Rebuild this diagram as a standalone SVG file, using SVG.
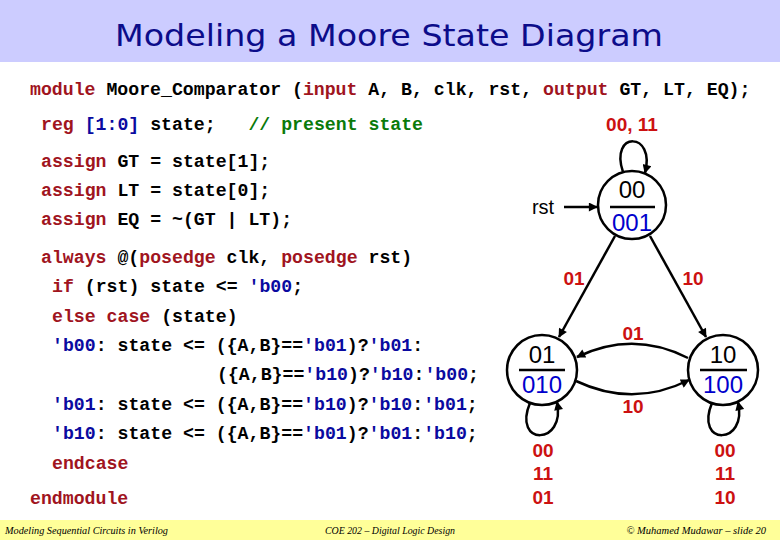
<svg xmlns="http://www.w3.org/2000/svg" width="780" height="540" viewBox="0 0 780 540">
<style>
.code{font-family:"Liberation Mono","DejaVu Sans Mono",monospace;font-weight:bold;font-size:18.2px;fill:#000;white-space:pre;}
.k{fill:#A0141E;}
.n{fill:#0A0AA0;}
.c{fill:#0A7A0A;}
.st{fill:#fff;stroke:#000;stroke-width:2.5;}
.bar{stroke:#000;stroke-width:2.5;}
.ns{font-family:"Liberation Sans",Arial,sans-serif;font-size:24px;text-anchor:middle;fill:#000;}
.no{fill:#0000CC;}
.lbl{font-family:"Liberation Sans",Arial,sans-serif;font-size:19px;font-weight:bold;fill:#CC1111;text-anchor:middle;}
.ed{fill:none;stroke:#000;stroke-width:2.5;marker-end:url(#ah);}
.ft{font-family:"Liberation Serif","Times New Roman",serif;font-style:italic;font-size:10.5px;fill:#000;}
</style>
<defs>
<marker id="ah" viewBox="0 0 10 10" refX="9" refY="5" markerWidth="11" markerHeight="9" markerUnits="userSpaceOnUse" orient="auto"><path d="M0,0 L10,5 L0,10 z" fill="#000"/></marker>
</defs>
<rect x="0" y="0" width="780" height="540" fill="#fff"/>
<rect x="0" y="0" width="780" height="62" fill="#CCCCFF"/>
<text x="389" y="46" text-anchor="middle" font-family="DejaVu Sans, sans-serif" font-size="31" fill="#0C0C8A" textLength="548" lengthAdjust="spacingAndGlyphs">Modeling a Moore State Diagram</text>
<rect x="0" y="520" width="780" height="20" fill="#FFFF99"/>
<text class="ft" x="5" y="534" textLength="163" lengthAdjust="spacingAndGlyphs">Modeling Sequential Circuits in Verilog</text>
<text class="ft" x="325" y="534" textLength="130" lengthAdjust="spacingAndGlyphs">COE 202 – Digital Logic Design</text>
<text class="ft" x="766" y="534" text-anchor="end">© Muhamed Mudawar – slide 20</text>
<g id="code">
<text class="code" x="30" y="95"><tspan class="k">module</tspan> Moore_Comparator (<tspan class="k">input</tspan> A, B, clk, rst, <tspan class="k">output</tspan> GT, LT, EQ);</text>
<text class="code" x="41" y="130"><tspan class="k">reg</tspan> <tspan class="n">[1:0]</tspan> state;   <tspan class="c">// present state</tspan></text>
<text class="code" x="41" y="167"><tspan class="k">assign</tspan> GT = state[1];</text>
<text class="code" x="41" y="196"><tspan class="k">assign</tspan> LT = state[0];</text>
<text class="code" x="41" y="225"><tspan class="k">assign</tspan> EQ = ~(GT | LT);</text>
<text class="code" x="41" y="263"><tspan class="k">always</tspan> @(<tspan class="k">posedge</tspan> clk, <tspan class="k">posedge</tspan> rst)</text>
<text class="code" x="52" y="292"><tspan class="k">if</tspan> (rst) state &lt;= <tspan class="n">'b00</tspan>;</text>
<text class="code" x="52" y="322"><tspan class="k">else case</tspan> (state)</text>
<text class="code" x="52" y="351"><tspan class="n">'b00</tspan>: state &lt;= ({A,B}==<tspan class="n">'b01</tspan>)?<tspan class="n">'b01</tspan>:</text>
<text class="code" x="217" y="380">({A,B}==<tspan class="n">'b10</tspan>)?<tspan class="n">'b10</tspan>:<tspan class="n">'b00</tspan>;</text>
<text class="code" x="52" y="410"><tspan class="n">'b01</tspan>: state &lt;= ({A,B}==<tspan class="n">'b10</tspan>)?<tspan class="n">'b10</tspan>:<tspan class="n">'b01</tspan>;</text>
<text class="code" x="52" y="439"><tspan class="n">'b10</tspan>: state &lt;= ({A,B}==<tspan class="n">'b01</tspan>)?<tspan class="n">'b01</tspan>:<tspan class="n">'b10</tspan>;</text>
<text class="code" x="52" y="469"><tspan class="k">endcase</tspan></text>
<text class="code" x="30" y="504"><tspan class="k">endmodule</tspan></text>
</g>
<g id="connectors">
<path class="ed" d="M564,207 L597,207"/>
<path class="ed" d="M623,172 C609,131 656,131 645,173"/>
<path class="ed" d="M615,236 L559,337"/>
<path class="ed" d="M650,236 L706,337"/>
<path class="ed" d="M688,358 Q633,330 577,357"/>
<path class="ed" d="M576,381 Q633,408 689,380"/>
<path class="ed" d="M530,403 C512,446 566,446 557,402"/>
<path class="ed" d="M712,403 C694,446 748,446 738,402"/>
</g>
<g id="state00">
<circle class="st" cx="632" cy="205" r="34"/>
<line class="bar" x1="610" y1="207" x2="655" y2="207"/>
<text class="ns" x="632" y="198">00</text>
<text class="ns no" x="632" y="231">001</text>
</g>
<g id="state01">
<circle class="st" cx="542" cy="370" r="35"/>
<line class="bar" x1="519" y1="370" x2="565" y2="370"/>
<text class="ns" x="542" y="363">01</text>
<text class="ns no" x="542" y="393">010</text>
</g>
<g id="state10">
<circle class="st" cx="723" cy="370" r="35"/>
<line class="bar" x1="700" y1="370" x2="747" y2="370"/>
<text class="ns" x="723" y="363">10</text>
<text class="ns no" x="723" y="393">100</text>
</g>
<g id="labels">
<text x="543" y="214" font-family="Liberation Sans, Arial, sans-serif" font-size="20" text-anchor="middle" fill="#000">rst</text>
<text class="lbl" x="632" y="131">00, 11</text>
<text class="lbl" x="574" y="285">01</text>
<text class="lbl" x="693" y="285">10</text>
<text class="lbl" x="633" y="340">01</text>
<text class="lbl" x="633" y="413">10</text>
<text class="lbl" x="543" y="457">00</text>
<text class="lbl" x="543" y="480">11</text>
<text class="lbl" x="543" y="504">01</text>
<text class="lbl" x="725" y="457">00</text>
<text class="lbl" x="725" y="480">11</text>
<text class="lbl" x="725" y="504">10</text>
</g>
</svg>
